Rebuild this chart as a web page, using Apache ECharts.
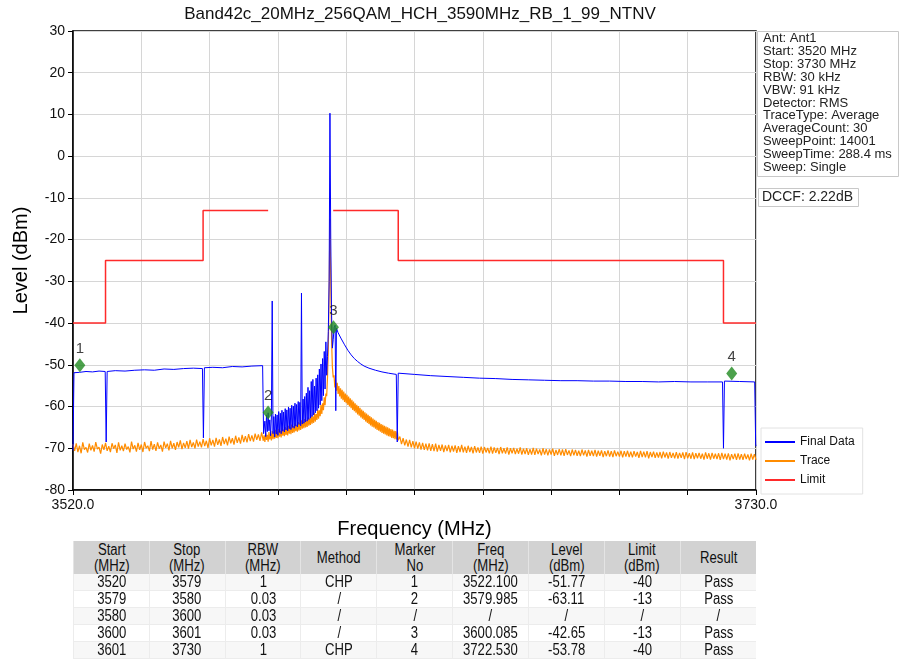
<!DOCTYPE html>
<html>
<head>
<meta charset="utf-8">
<script src="https://cdn.jsdelivr.net/npm/echarts/dist/echarts.min.js"></script>
<style>
  html, body { margin: 0; padding: 0; background: #fff; }
  #wrap { position: relative; width: 904px; height: 659px; overflow: hidden; }
  #chart { position: absolute; left: 0; top: 0; width: 904px; height: 659px; }
  #tbl { position: absolute; left: 73px; top: 541px; width: 683px; border-collapse: collapse; table-layout: fixed;
         font-family: "Liberation Sans", Arial, sans-serif; font-size: 16px; color: #111; }
  #tbl th { background: #d2d2d2; font-weight: normal; line-height: 16px; height: 33px; padding: 0; text-align: center; border-left: 1px solid #e4e4e4; }
  #tbl td { line-height: 16px; height: 16px; padding: 0; text-align: center; border-left: 1px solid #ececec; border-bottom: 1px solid #ececec; }
  #tbl tr:nth-child(even) td { background: #f7f7f7; }
  #tbl span { display: inline-block; transform: scaleX(0.82); transform-origin: center; white-space: nowrap; }
</style>
</head>
<body>
<div id="wrap">
  <div id="chart"></div>
  <table id="tbl"></table>
</div>
<script>
// ---------------- data ----------------
const chartTitle = 'Band42c_20MHz_256QAM_HCH_3590MHz_RB_1_99_NTNV';
const xName = 'Frequency (MHz)';
const yName = 'Level (dBm)';
const xMin = 3520, xMax = 3730, xStep = 21;
const yMin = -80, yMax = 30, yStep = 10;

// Trace (orange), left part: 3520.0 .. 3578.0 step 0.5
const traceLeftStart = 3520.0, traceLeftStep = 0.5;
const traceLeft = [
-69.0,-70.6,-68.8,-70.9,-69.4,-71.2,-68.6,-70.3,-69.8,-71.0,
-68.9,-70.5,-69.3,-70.8,-68.5,-70.2,-69.7,-71.3,-69.1,-70.4,
-68.7,-70.6,-69.5,-70.9,-68.8,-70.1,-69.2,-71.1,-68.6,-70.5,
-69.4,-70.7,-68.9,-70.3,-69.6,-71.0,-68.4,-70.2,-69.3,-70.8,
-68.7,-70.4,-69.1,-70.9,-68.5,-70.0,-69.4,-70.7,-68.3,-70.3,
-69.0,-70.6,-68.6,-70.1,-69.2,-70.8,-68.4,-69.9,-68.9,-70.5,
-68.2,-70.0,-68.8,-70.4,-68.5,-69.8,-68.1,-70.2,-68.7,-69.9,
-68.3,-70.1,-68.0,-69.7,-68.6,-70.0,-67.9,-69.6,-68.4,-69.8,
-67.8,-69.5,-68.2,-69.9,-67.6,-69.3,-68.0,-69.6,-67.5,-69.2,
-67.9,-69.4,-67.3,-69.0,-67.7,-69.3,-67.2,-68.8,-67.6,-69.1,
-67.0,-68.7,-67.4,-68.9,-66.8,-68.5,-67.1,-68.6,-66.6,-68.3,
-66.9,-68.4,-66.5,-68.0,-66.7,-68.2,-66.2
];
// Trace, carrier region: 3578.25 .. 3620.0 step 0.25
const tracePeakStart = 3578.25, tracePeakStep = 0.25;
const tracePeak = [
-66.5,-68.2,-66.9,-68.5, -66.3,-68.0,-66.8,-68.4, -66.1,-67.9,-66.4,-68.1,
-65.9,-67.8,-66.2,-67.7, -65.6,-67.5,-66.0,-67.6, -65.4,-67.2,-65.8,-67.4,
-65.1,-67.0,-65.5,-67.1, -64.9,-66.8,-65.2,-66.9, -64.6,-66.5,-64.9,-66.6,
-64.3,-66.3,-64.7,-66.2, -64.0,-65.9,-64.4,-66.0, -63.7,-65.7,-64.0,-65.6,
-63.3,-65.3,-63.7,-65.2, -63.0,-65.0,-63.3,-64.9, -62.6,-64.6,-62.9,-64.4,
-62.1,-64.1,-62.4,-63.9, -61.5,-63.6,-61.8,-63.2, -60.7,-62.9,-60.9,-62.3,
-59.6,-61.8,-59.2,-60.9, -57.8,-59.7,-56.9,-57.5, -53.0,-46.0,-32.0,-15.0,
-30.0,-44.0,-50.5,-53.0, -52.5,-55.4,-53.6,-56.2, -54.3,-57.0,-55.1,-57.6,
-55.6,-58.1,-56.0,-58.5, -56.4,-58.9,-56.9,-59.2, -57.2,-59.6,-57.6,-60.0,
-58.0,-60.4,-58.4,-60.8, -58.8,-61.1,-59.2,-61.5, -59.6,-61.9,-59.9,-62.2,
-60.3,-62.6,-60.7,-62.9, -61.0,-63.2,-61.4,-63.6, -61.7,-63.9,-62.0,-64.2,
-62.3,-64.5,-62.6,-64.8, -62.9,-65.0,-63.2,-65.3, -63.4,-65.6,-63.7,-65.8,
-63.9,-66.0,-64.2,-66.3, -64.4,-66.5,-64.6,-66.7, -64.8,-66.9,-65.0,-67.1,
-65.2,-67.2,-65.4,-67.5, -65.5,-67.6,-65.8,-67.8, -65.9,-67.9,-66.1,-68.1
];
// Trace, right part: 3620.5 .. 3730.0 step 0.5
const traceRightStart = 3620.5, traceRightStep = 0.5;
const traceRight = [
-67.2,-69.0,-67.6,-69.3,-67.9,-69.6,-68.0,-69.8,-68.3,-70.0,
-68.4,-70.1,-68.6,-70.3,-68.7,-70.4,-68.9,-70.5,-68.8,-70.6,
-69.0,-70.7,-68.9,-70.8,-69.2,-70.6,-69.1,-70.9,-69.3,-70.7,
-69.2,-71.0,-69.4,-70.8,-69.3,-71.1,-69.5,-70.9,-69.2,-71.0,
-69.6,-71.1,-69.4,-70.9,-69.7,-71.2,-69.5,-71.0,-69.8,-71.1,
-69.6,-71.3,-69.7,-71.0,-69.9,-71.2,-69.6,-71.3,-69.8,-71.1,
-69.9,-71.4,-69.7,-71.2,-70.0,-71.3,-69.8,-71.5,-70.0,-71.2,
-69.9,-71.4,-70.1,-71.3,-69.8,-71.5,-70.1,-71.4,-70.0,-71.6,
-70.2,-71.5,-69.9,-71.6,-70.1,-71.4,-70.3,-71.7,-70.0,-71.5,
-70.2,-71.7,-70.3,-71.5,-70.1,-71.8,-70.4,-71.6,-70.2,-71.7,
-70.3,-71.8,-70.2,-71.6,-70.5,-71.9,-70.3,-71.7,-70.4,-71.8,
-70.6,-71.9,-70.3,-71.7,-70.5,-72.0,-70.4,-71.8,-70.6,-71.9,
-70.4,-72.0,-70.6,-71.8,-70.5,-72.1,-70.7,-71.9,-70.5,-72.0,
-70.7,-72.1,-70.5,-71.9,-70.8,-72.0,-70.6,-72.2,-70.7,-72.0,
-70.6,-72.1,-70.8,-72.2,-70.7,-72.0,-70.9,-72.3,-70.6,-72.1,
-70.8,-72.2,-70.7,-72.4,-70.9,-72.1,-70.8,-72.3,-71.0,-72.2,
-70.9,-72.4,-70.8,-72.2,-71.0,-72.5,-70.9,-72.3,-71.1,-72.4,
-70.9,-72.5,-71.1,-72.3,-71.0,-72.6,-70.9,-72.4,-71.2,-72.5,
-71.0,-72.6,-71.2,-72.4,-71.1,-72.5,-71.3,-72.7,-71.0,-72.5,
-71.2,-72.7,-71.1,-72.5,-71.3,-72.6,-71.2,-72.8,-71.1,-72.6,
-71.3,-72.7,-71.2,-72.9,-71.4,-72.6,-71.3,-72.8,-71.2,-72.7,
-71.4,-72.8,-71.3,-72.6,-71.5,-72.9,-71.3,-72.7,-71.4,-72.8
];

// Final Data (blue): left flat part [MHz, dBm]
const finalLeft = [
[3520.0,-70.5],[3520.3,-51.9],[3522,-51.8],[3524,-51.6],[3526,-51.7],[3528,-51.5],
[3529.9,-51.6],[3530.2,-68.5],[3530.5,-51.6],[3533,-51.4],[3536,-51.5],[3539,-51.3],
[3542,-51.2],[3545,-51.3],[3548,-51.0],[3551,-51.1],[3554,-50.9],[3557,-50.8],
[3559.8,-50.9],[3560.1,-67.5],[3560.4,-50.7],[3563,-50.6],[3566,-50.7],[3569,-50.4],
[3572,-50.5],[3575,-50.3],[3578.3,-50.2],[3578.6,-66.5]
];
// Final Data, narrow-RBW region: 3578.75 .. 3598.0 step 0.25
const finalNoiseStart = 3578.75, finalNoiseStep = 0.25;
const finalNoise = [
-66.8,-63.5,-67.2,-62.0,-66.0,-61.5,-65.8,-63.2,-67.0,-62.5,
-34.7,-66.5,-62.4,-67.3,-61.8,-66.6,-62.0,-66.9,-61.2,-66.2,
-61.6,-66.5,-60.9,-65.9,-61.3,-66.1,-60.5,-65.6,-60.8,-65.8,
-60.1,-65.3,-60.4,-65.5,-59.7,-65.0,-59.9,-65.2,-59.2,-64.7,
-59.5,-64.9,-58.8,-64.3,-59.0,-64.6,-32.8,-64.2,-58.2,-64.0,
-57.6,-63.7,-56.8,-63.5,-55.4,-63.1,-56.2,-62.8,-54.0,-62.4,
-53.5,-62.0,-55.1,-61.5,-53.2,-61.0,-52.4,-60.4,-51.0,-59.6,
-49.8,-58.6,-48.5,-57.4,-46.8,-55.8,-44.5,-52.5
];
// Final Data, carrier and right part [MHz, dBm]
const finalRight = [
[3598.25,-48.0],[3598.5,-42.0],[3598.75,-30.0],[3599.0,10.3],[3599.25,-20.0],[3599.5,-38.0],
[3599.75,-46.0],[3600.0,-44.0],[3600.3,-41.0],[3600.6,-40.5],[3600.8,-61.0],[3601.0,-41.2],
[3601.5,-42.3],[3602.5,-43.8],[3603.5,-45.2],[3604.5,-46.5],[3605.5,-47.6],[3606.5,-48.5],
[3607.5,-49.2],[3608.5,-49.8],[3609.5,-50.3],[3611,-50.8],[3613,-51.3],[3615,-51.7],
[3617,-52.0],[3619.4,-52.3],[3619.7,-68.5],[3620.0,-52.0],[3625,-52.3],[3630,-52.6],
[3635,-52.8],[3640,-53.0],[3645,-53.2],[3650,-53.3],[3655,-53.5],[3660,-53.6],
[3665,-53.7],[3670,-53.8],[3675,-53.8],[3680,-53.9],[3685,-53.9],[3690,-54.0],
[3695,-54.0],[3700,-54.1],[3705,-54.0],[3710,-54.1],[3715,-54.1],[3719.7,-54.1],
[3720.0,-70.0],[3720.3,-53.9],[3725,-54.0],[3729.6,-54.1],[3729.9,-69.0],[3730.0,-69.5]
];

// Limit (red)
const limitData = [
[3520,-40],[3530,-40],[3530,-25],[3560,-25],[3560,-13],[3580,-13],[3590,'-'],
[3600,-13],[3620,-13],[3620,-25],[3720,-25],[3720,-40],[3730,-40]
];

// Markers
const markerNames = ['1','2','3','4'];
const markerFreq  = [3522.100, 3579.985, 3600.085, 3722.530];
const markerLevel = [-51.77, -63.11, -42.65, -53.78];

// Info panel
const infoLines = ['Ant: Ant1','Start: 3520 MHz','Stop: 3730 MHz','RBW: 30 kHz','VBW: 91 kHz',
  'Detector: RMS','TraceType: Average','AverageCount: 30','SweepPoint: 14001',
  'SweepTime: 288.4 ms','Sweep: Single'];
const dccfText = 'DCCF: 2.22dB';

// Legend names
const legendNames = ['Final Data','Trace','Limit'];

// Table
const tableHeader = ['Start<br>(MHz)','Stop<br>(MHz)','RBW<br>(MHz)','Method','Marker<br>No','Freq<br>(MHz)','Level<br>(dBm)','Limit<br>(dBm)','Result'];
const tableRows = [
  ['3520','3579','1','CHP','1','3522.100','-51.77','-40','Pass'],
  ['3579','3580','0.03','/','2','3579.985','-63.11','-13','Pass'],
  ['3580','3600','0.03','/','/','/','/','/','/'],
  ['3600','3601','0.03','/','3','3600.085','-42.65','-13','Pass'],
  ['3601','3730','1','CHP','4','3722.530','-53.78','-40','Pass']
];

// ---------------- build ----------------
function seq(start, step, vals) { return vals.map((v, i) => [start + i * step, v]); }
const traceData = [].concat(
  seq(traceLeftStart, traceLeftStep, traceLeft),
  seq(tracePeakStart, tracePeakStep, tracePeak),
  seq(traceRightStart, traceRightStep, traceRight));
const finalData = [].concat(finalLeft, seq(finalNoiseStart, finalNoiseStep, finalNoise), finalRight);
const markerData = markerNames.map((n, i) => ({ name: n, value: [markerFreq[i], markerLevel[i]] }));

// table
(function () {
  let h = '<tr>' + tableHeader.map(t => '<th><span>' + t + '</span></th>').join('') + '</tr>';
  tableRows.forEach(r => { h += '<tr>' + r.map(c => '<td><span>' + c + '</span></td>').join('') + '</tr>'; });
  document.getElementById('tbl').innerHTML = h;
})();

const FONT = '"Liberation Sans", Arial, sans-serif';
const chart = echarts.init(document.getElementById('chart'), null, { renderer: 'canvas' });
chart.setOption({
  animation: false,
  backgroundColor: '#fff',
  textStyle: { fontFamily: FONT },
  title: {
    text: chartTitle, left: 415, top: 1, textAlign: 'center',
    textStyle: { fontSize: 17, fontWeight: 'normal', color: '#111', fontFamily: FONT }
  },
  grid: { left: 73, right: 148, top: 31, bottom: 169, show: true, borderColor: '#000', borderWidth: 1.5 },
  legend: {
    data: legendNames.map(n => ({ name: n, icon: 'rect' })), orient: 'vertical', left: 761, top: 428,
    itemWidth: 30, itemHeight: 2, itemGap: 5,
    backgroundColor: '#fff', borderColor: '#e2e2e2', borderWidth: 1, padding: [7, 8, 7, 4],
    textStyle: { fontSize: 12, color: '#111', fontFamily: FONT, lineHeight: 14 }
  },
  xAxis: {
    type: 'value', min: xMin, max: xMax, interval: xStep,
    name: xName, nameLocation: 'middle', nameGap: 29,
    nameTextStyle: { fontSize: 20, color: '#000', fontFamily: FONT },
    axisLine: { show: true, onZero: false, lineStyle: { color: '#000', width: 1.5 } },
    axisTick: { show: true, length: 5, lineStyle: { color: '#000' } },
    axisLabel: {
      show: true, fontSize: 14, color: '#111', margin: 8, showMaxLabel: true, showMinLabel: true,
      formatter: v => (v === xMin || v === xMax) ? v.toFixed(1) : ''
    },
    splitLine: { show: true, lineStyle: { color: '#d6d6d6', width: 1 } }
  },
  yAxis: {
    type: 'value', min: yMin, max: yMax, interval: yStep,
    name: yName, nameLocation: 'middle', nameGap: 42,
    nameTextStyle: { fontSize: 20, color: '#000', fontFamily: FONT },
    axisLine: { show: true, onZero: false, lineStyle: { color: '#000', width: 1.5 } },
    axisTick: { show: true, length: 5, lineStyle: { color: '#000' } },
    axisLabel: { fontSize: 14, color: '#111', margin: 8 },
    splitLine: { show: true, lineStyle: { color: '#d6d6d6', width: 1 } }
  },
  graphic: [
    { type: 'rect', left: 757, top: 31, shape: { width: 141, height: 145 },
      style: { fill: '#fff', stroke: '#c8c8c8', lineWidth: 1 } },
    { type: 'text', left: 763, top: 32,
      style: { text: infoLines.join('\n'), fontSize: 13, lineHeight: 12.9, fill: '#222', fontFamily: FONT } },
    { type: 'rect', left: 758, top: 188, shape: { width: 100, height: 18 },
      style: { fill: '#fff', stroke: '#c8c8c8', lineWidth: 1 } },
    { type: 'text', left: 762, top: 190,
      style: { text: dccfText, fontSize: 14, fill: '#222', fontFamily: FONT } }
  ],
  series: [
    { name: 'Trace', type: 'line', data: traceData, symbol: 'none', showSymbol: false,
      lineStyle: { color: '#ff8c00', width: 1.2 }, itemStyle: { color: '#ff8c00' }, z: 2 },
    { name: 'Final Data', type: 'line', data: finalData, symbol: 'none', showSymbol: false,
      lineStyle: { color: '#0000ff', width: 1 }, itemStyle: { color: '#0000ff' }, z: 3 },
    { name: 'Limit', type: 'line', data: limitData, symbol: 'none', showSymbol: false, connectNulls: false,
      lineStyle: { color: '#ff2a2a', width: 1.5 }, itemStyle: { color: '#ff2a2a' }, z: 4 },
    { name: 'Markers', type: 'scatter', data: markerData, symbol: 'diamond', symbolSize: [11, 14],
      symbolOffset: [0, -7],
      itemStyle: { color: '#1f8a1f' }, z: 5,
      label: { show: true, position: 'top', distance: 2, formatter: p => p.name,
               fontSize: 15, color: '#111', fontFamily: FONT } }
  ]
});
</script>
</body>
</html>
